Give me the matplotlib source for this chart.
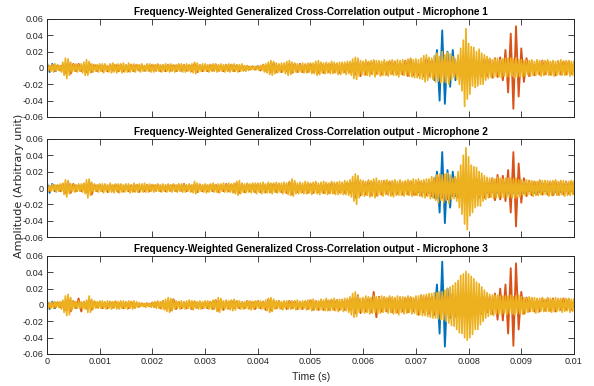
import numpy as np
import matplotlib
matplotlib.use('Agg')
import matplotlib.pyplot as plt

# sample values in units of 1e-3 over 0 .. 0.01 s
# yellow traces: 40 samples per ms, blue / orange traces: 20 samples per ms
duration = 0.01
scale = 1e-3

mic1_blue = [
    6, -5, 5, -4, 3, -2, 3, -4, 5, -4, 3, -2, 3, -2, 3, -4, 5, -4, 3, -2,
    3, -2, 3, -3, 2, -3, 3, -3, 2, -3, 3, -2, 3, -3, 2, -3, 2, -3, 2, -3,
    2, -3, 2, -2, 3, -2, 2, -3, 3, -2, 2, -3, 2, -3, 3, -2, 3, -3, 3, -2,
    3, -2, 2, -3, 2, -3, 3, -2, 2, -3, 2, -2, 3, -2, 2, -2, 2, -1, 1, -1,
    2, -2, 2, -3, 3, -4, 5, -4, 3, -3, 3, -3, 4, -5, 4, -3, 3, -3, 3, -3,
    3, -4, 3, -4, 5, -4, 3, -3, 4, -3, 4, -4, 3, -4, 4, -3, 5, -6, 7, -7,
    5, -6, 5, -5, 6, -5, 5, -6, 5, -5, 6, -5, 5, -6, 5, -5, 6, -5, 5, -6,
    6, -7, 6, -8, 10, -9, 8, -15, 22, -40, 46, -44, 20, -23, 22, -15, 9, -7, 8, -9,
    9, -8, 7, -6, 7, -6, 6, -6, 6, -5, 6, -6, 6, -5, 6, -6, 6, -6, 5, -6,
    5, -6, 5, -5, 5, -6, 5, -5, 6, -5, 5, -5, 5, -5, 5, -5, 5, -5, 5, -5,
    4]
mic1_orange = [
    4, -3, 4, -3, 3, -3, 4, -6, 8, -7, 5, -4, 5, -4, 3, -5, 6, -5, 4, -4,
    3, -4, 4, -4, 4, -3, 4, -4, 4, -4, 3, -4, 4, -4, 4, -3, 4, -3, 4, -3,
    4, -3, 4, -4, 3, -4, 4, -3, 3, -4, 4, -3, 4, -3, 3, -4, 5, -5, 3, -4,
    3, -4, 4, -3, 4, -3, 3, -4, 4, -3, 4, -4, 3, -4, 3, -2, 2, -2, 2, -2,
    2, -3, 4, -3, 4, -5, 6, -5, 4, -5, 4, -4, 5, -6, 5, -5, 5, -5, 4, -5,
    5, -5, 5, -6, 6, -6, 5, -5, 5, -5, 5, -6, 5, -5, 5, -5, 6, -8, 9, -10,
    7, -8, 7, -7, 8, -7, 7, -8, 7, -8, 8, -7, 8, -7, 7, -8, 9, -10, 11, -9,
    8, -9, 7, -10, 11, -10, 9, -10, 11, -10, 9, -10, 11, -9, 8, -8, 9, -10, 9, -8,
    9, -8, 10, -8, 9, -10, 11, -10, 11, -12, 12, -11, 13, -15, 22, -30, 42, -50, 51, -35,
    24, -17, 12, -10, 8, -9, 8, -8, 9, -8, 8, -8, 8, -9, 8, -8, 8, -8, 8, -7,
    7]
mic1_yellow = [
    4, -3, 3, -4, 4, -5, 5, -4, 4, -3, 3, -5, 7, -9, 12, -13, 11, -9, 7, -5,
    4, -4, 5, -5, 4, -4, 5, -6, 7, -9, 10, -9, 8, -6, 5, -5, 4, -4, 4, -5,
    5, -4, 5, -6, 5, -4, 3, -5, 5, -6, 6, -5, 4, -6, 5, -4, 5, -6, 6, -5,
    4, -5, 6, -5, 4, -4, 5, -5, 4, -3, 4, -5, 5, -4, 3, -4, 5, -4, 5, -5,
    4, -5, 4, -4, 5, -4, 4, -5, 4, -4, 5, -4, 4, -5, 5, -4, 4, -5, 4, -4,
    5, -4, 5, -5, 4, -5, 5, -4, 4, -5, 5, -6, 7, -7, 6, -5, 4, -4, 5, -4,
    5, -4, 4, -5, 4, -4, 5, -4, 5, -5, 4, -4, 5, -4, 4, -5, 4, -4, 5, -5,
    4, -4, 5, -4, 4, -5, 4, -4, 5, -4, 3, -4, 3, -3, 2, -2, 2, -2, 2, -2,
    2, -3, 3, -3, 4, -5, 5, -6, 7, -8, 9, -9, 8, -7, 6, -6, 5, -5, 6, -5,
    6, -7, 8, -9, 9, -8, 7, -6, 6, -5, 5, -5, 4, -5, 6, -6, 5, -6, 6, -5,
    6, -7, 6, -7, 8, -9, 9, -8, 7, -6, 6, -7, 7, -6, 6, -7, 8, -7, 7, -6,
    6, -8, 7, -8, 7, -6, 7, -8, 8, -7, 8, -9, 11, -13, 13, -14, 12, -10, 9, -8,
    8, -9, 10, -9, 8, -10, 9, -8, 10, -11, 9, -8, 9, -10, 8, -9, 10, -9, 8, -10,
    9, -8, 10, -9, 8, -9, 10, -11, 9, -8, 10, -9, 8, -9, 11, -10, 12, -11, 10, -12,
    11, -12, 10, -13, 12, -14, 15, -17, 16, -15, 13, -12, 12, -14, 15, -17, 18, -16, 14, -18,
    20, -17, 16, -18, 19, -20, 17, -15, 14, -12, 11, -14, 16, -20, 24, -28, 34, -47, 48, -38,
    30, -32, 26, -22, 25, -24, 20, -22, 23, -20, 18, -20, 16, -15, 14, -13, 12, -11, 10, -12,
    11, -10, 12, -11, 10, -12, 11, -10, 12, -11, 12, -11, 12, -10, 11, -12, 12, -11, 10, -11,
    10, -11, 9, -10, 9, -8, 9, -10, 10, -9, 8, -9, 10, -8, 9, -10, 8, -9, 9, -8,
    10, -9, 8, -9, 9, -10, 8, -9, 9, -8, 10, -9, 8, -9, 9, -8, 9, -10, 8, -9,
    8]

mic2_blue = [
    6, -6, 5, -4, 3, -2, 3, -4, 5, -4, 3, -2, 3, -2, 3, -4, 6, -5, 3, -2,
    3, -2, 3, -3, 2, -3, 3, -3, 2, -3, 3, -2, 3, -3, 2, -3, 2, -3, 3, -2,
    2, -3, 2, -3, 3, -2, 2, -3, 3, -2, 2, -3, 3, -2, 3, -2, 2, -4, 3, -2,
    3, -3, 2, -3, 3, -2, 2, -3, 3, -2, 3, -3, 4, -5, 4, -3, 3, -2, 3, -3,
    3, -2, 4, -3, 2, -4, 3, -2, 4, -3, 3, -4, 6, -5, 4, -3, 4, -3, 4, -4,
    3, -4, 4, -3, 4, -4, 3, -4, 4, -4, 4, -4, 4, -4, 5, -5, 6, -10, 9, -6,
    5, -6, 6, -5, 5, -6, 5, -5, 6, -5, 5, -6, 5, -5, 6, -5, 5, -6, 5, -5,
    5, -5, 6, -5, 5, -6, 7, -12, 20, -30, 44, -43, 22, -24, 20, -10, 8, -8, 9, -10,
    9, -8, 7, -6, 7, -6, 6, -6, 6, -5, 6, -6, 6, -5, 6, -6, 6, -6, 5, -6,
    5, -6, 5, -4, 5, -6, 4, -5, 6, -4, 5, -4, 5, -5, 4, -5, 5, -4, 5, -4,
    4]
mic2_orange = [
    3, -4, 3, -3, 3, -4, 5, -6, 8, -6, 5, -4, 3, -4, 5, -5, 8, -8, 4, -4,
    4, -4, 4, -5, 4, -3, 4, -5, 4, -4, 4, -4, 3, -4, 4, -5, 3, -4, 4, -4,
    4, -3, 4, -4, 3, -4, 4, -3, 4, -4, 4, -3, 5, -4, 3, -4, 4, -5, 4, -4,
    4, -4, 4, -4, 4, -5, 4, -4, 5, -4, 4, -5, 6, -6, 5, -5, 5, -4, 4, -5,
    5, -5, 5, -5, 5, -5, 5, -5, 5, -5, 5, -6, 7, -8, 6, -5, 5, -5, 5, -6,
    5, -6, 6, -5, 5, -6, 5, -6, 6, -6, 6, -5, 6, -6, 6, -6, 7, -12, 12, -9,
    8, -8, 8, -9, 8, -9, 8, -8, 9, -7, 8, -8, 8, -7, 8, -8, 7, -8, 8, -8,
    -8, 8, -9, 8, -9, 9, -10, 12, -13, 14, -12, 13, -14, 12, -10, 11, -12, 12, -11, 10,
    -10, 10, -11, 11, -12, 11, -12, 10, -11, 12, -15, 16, -14, 15, -16, 22, -30, 44, -47, 30,
    -18, 12, -10, 9, -9, 8, -8, 9, -8, 8, -8, 8, -9, 8, -8, 8, -8, 8, -7, 8,
    -7]
mic2_yellow = [
    3, -4, 3, -4, 4, -3, 4, -5, 4, -4, 5, -4, 6, -8, 10, -11, 9, -7, 5, -4,
    4, -5, 4, -4, 5, -4, 5, -5, 6, -7, 10, -12, 11, -9, 7, -5, 5, -4, 4, -5,
    5, -4, 5, -6, 5, -4, 4, -5, 6, -5, 4, -6, 5, -4, 5, -6, 5, -5, 4, -5,
    5, -4, 5, -6, 4, -5, 6, -5, 4, -5, 5, -4, 5, -5, 6, -5, 4, -5, 5, -4,
    4, -5, 4, -4, 5, -4, 4, -5, 5, -4, 4, -5, 5, -4, 4, -5, 5, -4, 4, -5,
    5, -4, 5, -5, 4, -5, 4, -4, 5, -5, 4, -6, 8, -7, 6, -5, 5, -4, 4, -5,
    5, -6, 4, -5, 5, -4, 6, -5, 4, -5, 5, -6, 5, -4, 6, -5, 4, -5, 6, -5,
    5, -6, 6, -7, 8, -9, 9, -7, 6, -5, 5, -6, 6, -5, 5, -6, 6, -5, 6, -7,
    6, -5, 6, -7, 7, -6, 5, -6, 7, -6, 6, -7, 6, -5, 7, -6, 6, -5, 6, -7,
    7, -6, 6, -8, 8, -9, 11, -10, 9, -7, 6, -7, 7, -6, 6, -7, 8, -7, 7, -6,
    6, -8, 7, -6, 8, -7, 6, -8, 7, -6, 8, -7, 7, -8, 6, -7, 8, -7, 7, -8,
    7, -8, 8, -7, 7, -8, 9, -8, 8, -9, 10, -11, 14, -16, 17, -20, 15, -12, 10, -9,
    9, -10, 8, -9, 10, -11, 9, -10, 11, -12, 12, -10, 9, -8, 9, -10, 9, -8, 10, -9,
    8, -10, 9, -11, 10, -9, 8, -9, 10, -9, 8, -10, 9, -8, 10, -9, 9, -10, 11, -9,
    10, -9, 11, -10, 9, -11, 10, -12, 11, -10, 11, -13, 14, -12, 13, -15, 16, -18, 17, -15,
    16, -18, 17, -15, 18, -19, 16, -14, 12, -13, 14, -16, 20, -24, 28, -32, 40, -44, 49, -51,
    38, -34, 28, -30, 26, -24, 25, -22, 20, -22, 18, -16, 15, -14, 13, -12, 12, -11, 12, -13,
    11, -12, 13, -11, 12, -12, 11, -12, 12, -11, 12, -11, 12, -12, 11, -12, 12, -11, 10, -11,
    10, -9, 8, -9, 10, -8, 9, -8, 9, -10, 8, -9, 8, -9, 10, -8, 9, -8, 9, -8,
    9, -10, 8, -9, 9, -8, 10, -9, 8, -9, 9, -8, 9, -10, 8, -9, 8, -9, 9, -8,
    8]

mic3_blue = [
    5, -5, 4, -4, 3, -2, 3, -5, 6, -5, 3, -2, 3, -3, 2, -4, 5, -4, 3, -2,
    3, -2, 3, -2, 2, -3, 2, -3, 3, -2, 3, -2, 2, -3, 1, -1, 1, -1, 1, -1,
    2, -2, 3, -2, 3, -4, 4, -5, 5, -4, 3, -2, 3, -2, 3, -3, 2, -3, 3, -2,
    3, -2, 3, -3, 4, -5, 5, -4, 3, -4, 4, -3, 3, -2, 3, -2, 3, -3, 2, -3,
    3, -2, 4, -5, 5, -4, 3, -2, 3, -4, 2, -3, 3, -2, 4, -3, 2, -3, 4, -3,
    4, -3, 3, -4, 4, -3, 5, -4, 4, -4, 5, -4, 3, -5, 4, -5, 6, -8, 9, -7,
    5, -6, 6, -5, 6, -6, 5, -6, 6, -5, 6, -5, 5, -6, 6, -5, 6, -6, 5, -6,
    6, -7, 6, -7, 8, -8, 9, -12, 25, -35, 53, -51, 20, -16, 14, -12, 9, -10, 12, -13,
    12, -11, 10, -8, 8, -7, 6, -7, 6, -5, 6, -7, 6, -5, 5, -6, 5, -5, 6, -5,
    5, -6, 4, -4, 4, -5, 4, -4, 5, -4, 4, -4, 4, -4, 4, -4, 4, -4, 4, -4,
    4]
mic3_orange = [
    3, -3, 3, -3, 3, -3, 4, -6, 9, -8, 5, -4, 8, -8, 4, -4, 7, -6, 4, -3,
    3, -4, 3, -4, 4, -3, 4, -3, 3, -4, 3, -4, 4, -3, 2, -2, 2, -1, 2, -1,
    3, -2, 3, -4, 5, -4, 5, -7, 7, -5, 4, -4, 3, -4, 4, -5, 4, -3, 3, -4,
    4, -4, 4, -5, 6, -7, 6, -6, 5, -4, 5, -4, 5, -4, 3, -4, 5, -4, 4, -5,
    5, -4, 4, -6, 7, -7, 5, -4, 5, -4, 4, -5, 5, -4, 4, -5, 4, -5, 4, -5,
    6, -6, 5, -6, 6, -6, 6, -6, 6, -6, 6, -6, 6, -6, 6, -6, 8, -10, 12, -10,
    8, -8, 8, -9, 16, -15, 10, -8, 9, -8, 9, -9, 8, -9, 9, -8, 9, -9, 9, -8,
    9, -12, 12, -9, 10, -11, 10, -11, 12, -11, 12, -11, 11, -12, 13, -14, 12, -13, 12, -11,
    12, -11, 10, -11, 10, -11, 10, -9, 10, -11, 14, -18, 20, -19, 25, -35, 45, -50, 51, -30,
    16, -11, 9, -8, 8, -8, 7, -8, 8, -7, 8, -7, 8, -8, 7, -6, 8, -6, 7, -6,
    6]
mic3_yellow = [
    3, -4, 3, -4, 3, -4, 4, -3, 4, -3, 4, -5, 6, -9, 11, -13, 13, -12, 9, -6,
    5, -4, 4, -4, 5, -4, 4, -5, 4, -5, 6, -9, 11, -9, 7, -5, 5, -4, 4, -4,
    5, -4, 5, -4, 4, -5, 5, -4, 4, -5, 4, -4, 5, -5, 4, -5, 5, -4, 5, -4,
    4, -5, 5, -4, 4, -5, 5, -4, 4, -3, 3, -2, 2, -2, 2, -3, 2, -2, 2, -3,
    3, -3, 4, -4, 5, -4, 4, -5, 5, -6, 7, -8, 9, -9, 8, -7, 6, -5, 5, -4,
    4, -5, 5, -4, 4, -5, 5, -4, 6, -5, 5, -6, 5, -4, 4, -5, 5, -5, 4, -4,
    5, -4, 5, -5, 4, -5, 6, -5, 6, -8, 9, -9, 8, -6, 5, -5, 6, -5, 5, -6,
    6, -7, 7, -6, 5, -4, 5, -5, 4, -5, 4, -4, 5, -5, 5, -6, 4, -5, 5, -4,
    5, -4, 5, -5, 4, -5, 6, -7, 8, -9, 9, -8, 7, -5, 5, -4, 5, -5, 4, -6,
    5, -4, 5, -5, 4, -5, 5, -4, 5, -6, 6, -5, 4, -5, 5, -4, 5, -6, 6, -5,
    6, -7, 7, -6, 5, -6, 5, -6, 7, -6, 6, -7, 8, -7, 6, -7, 7, -6, 8, -7,
    6, -8, 7, -6, 7, -8, 8, -7, 8, -9, 10, -12, 14, -15, 16, -14, 11, -9, 8, -9,
    9, -10, 11, -9, 10, -11, 9, -10, 11, -9, 10, -11, 9, -10, 11, -9, 10, -8, 9, -10,
    11, -9, 10, -11, 9, -10, 11, -12, 10, -9, 10, -11, 9, -10, 11, -9, 10, -11, 9, -10,
    11, -12, 11, -12, 12, -13, 12, -13, 13, -14, 14, -15, 14, -16, 15, -16, 15, -17, 16, -18,
    16, -18, 18, -20, 20, -22, 22, -25, 24, -26, 27, -30, 30, -34, 36, -35, 38, -40, 41, -43,
    38, -40, 35, -36, 32, -30, 28, -30, 26, -24, 22, -20, 18, -16, 15, -14, 13, -12, 12, -13,
    12, -11, 12, -11, 11, -12, 11, -10, 11, -12, 11, -10, 12, -11, 10, -12, 11, -10, 12, -11,
    10, -11, 9, -10, 8, -9, 10, -8, 9, -8, 9, -10, 8, -9, 8, -7, 9, -8, 7, -8,
    9, -8, 8, -9, 7, -8, 9, -8, 8, -7, 8, -9, 7, -8, 8, -7, 8, -9, 7, -8,
    7]

titles = ['Frequency-Weighted Generalized Cross-Correlation output - Microphone 1',
          'Frequency-Weighted Generalized Cross-Correlation output - Microphone 2',
          'Frequency-Weighted Generalized Cross-Correlation output - Microphone 3']
series = [(mic1_blue, mic1_orange, mic1_yellow),
          (mic2_blue, mic2_orange, mic2_yellow),
          (mic3_blue, mic3_orange, mic3_yellow)]
colors = ['#0072BD', '#D95319', '#EDB120']
widths = [1.35, 1.35, 1.25]
yticks = [-0.06, -0.04, -0.02, 0, 0.02, 0.04, 0.06]
ytick_labels = ['-0.06', '-0.04', '-0.02', '0', '0.02', '0.04', '0.06']
xticks = [0, 0.001, 0.002, 0.003, 0.004, 0.005, 0.006, 0.007, 0.008, 0.009, 0.01]
xtick_labels = ['0', '0.001', '0.002', '0.003', '0.004', '0.005', '0.006',
                '0.007', '0.008', '0.009', '0.01']

plt.rcParams['font.family'] = ['Liberation Sans', 'DejaVu Sans']
plt.rcParams['axes.unicode_minus'] = False
ink = '#262626'

fig = plt.figure(figsize=(5.94, 3.86), dpi=100)
bottoms = [0.697, 0.386, 0.083]

for k in range(3):
    ax = fig.add_axes([0.0791, bottoms[k], 0.8872, 0.2539])
    for vals, c, lw in zip(series[k], colors, widths):
        y = np.array(vals) * scale
        t = np.linspace(0, duration, len(y))
        ax.plot(t, y, color=c, lw=lw)
    ax.set_xlim(0, 0.01)
    ax.set_ylim(-0.06, 0.06)
    ax.set_yticks(yticks)
    ax.set_yticklabels(ytick_labels)
    ax.set_xticks(xticks)
    if k == 2:
        ax.set_xticklabels(xtick_labels)
    else:
        ax.set_xticklabels([])
    ax.tick_params(direction='in', top=True, right=True, length=4, width=0.6,
                   color=ink, labelcolor=ink, labelsize=6.6, pad=2.5)
    for s in ax.spines.values():
        s.set_color(ink)
        s.set_linewidth(0.7)
    ax.set_title(titles[k], fontsize=7.2, fontweight='bold', pad=3)

fig.text(0.032, 0.518, 'Amplitude (Arbitrary unit)', rotation=90, ha='center',
         va='center', fontsize=8, color=ink, family='DejaVu Sans')
fig.text(0.524, 0.023, 'Time (s)', ha='center', va='center', fontsize=7.6,
         color=ink)

fig.savefig('out.png', dpi=100)
